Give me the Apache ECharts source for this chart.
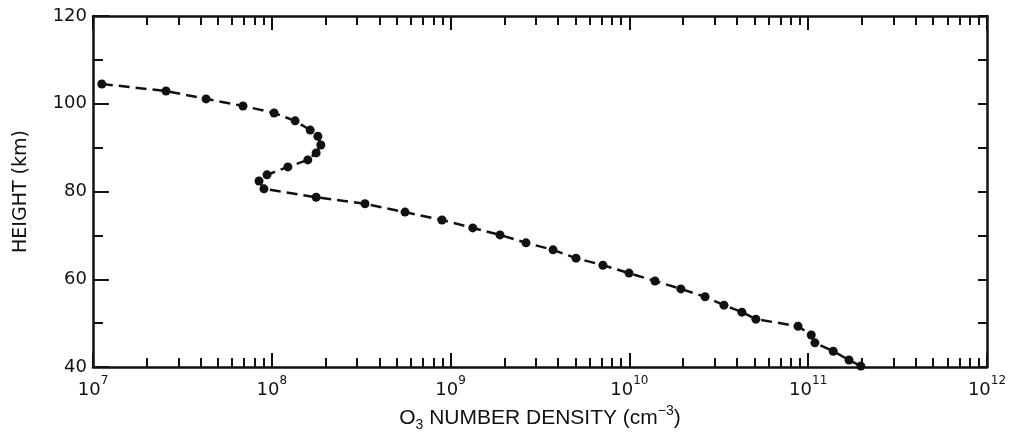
<!DOCTYPE html>
<html>
<head>
<meta charset="utf-8">
<script src="https://cdn.jsdelivr.net/npm/echarts@6/dist/echarts.min.js"></script>
<style>
html, body { margin: 0; padding: 0; background: #fff; }
#chart { width: 1016px; height: 438px; }
</style>
</head>
<body>
<div id="chart"></div>
<script>
// O3 number density (cm^-3) and height (km)
var density = [1.12e7, 2.56e7, 4.29e7, 6.9e7, 1.03e8, 1.35e8, 1.64e8, 1.81e8, 1.88e8, 1.77e8,
    1.59e8, 1.23e8, 9.4e7, 8.48e7, 9.04e7, 1.77e8, 3.32e8, 5.56e8, 8.95e8, 1.33e9,
    1.89e9, 2.64e9, 3.74e9, 5.03e9, 7.11e9, 9.95e9, 1.39e10, 1.94e10, 2.65e10, 3.38e10,
    4.26e10, 5.1e10, 8.77e10, 1.04e11, 1.09e11, 1.38e11, 1.69e11, 1.97e11];
var height = [104.5, 102.9, 101.1, 99.5, 97.9, 96.1, 94.0, 92.6, 90.6, 88.8,
    87.2, 85.6, 83.8, 82.4, 80.6, 78.7, 77.2, 75.3, 73.5, 71.7,
    70.1, 68.3, 66.7, 64.8, 63.2, 61.4, 59.6, 57.8, 56.0, 54.1,
    52.5, 50.9, 49.3, 47.3, 45.5, 43.6, 41.6, 40.2];

// axis ticks
var decades = [7, 8, 9, 10, 11, 12];
var minorSteps = [2, 3, 4, 5, 6, 7, 8, 9];
var heightMin = 40, heightMax = 120, heightStep = 20;

var minorLogTicks = [];
decades.slice(0, -1).forEach(function (d) {
    minorSteps.forEach(function (m) { minorLogTicks.push(d + Math.log10(m)); });
});

var points = density.map(function (v, i) { return [v, height[i]]; });

var font = '"DejaVu Sans", sans-serif';
var narrow = '"Liberation Sans Narrow", "Liberation Sans", sans-serif';
var black = '#111';

function logAxis(pos, withLabels) {
    return {
        type: 'log',
        position: pos,
        min: Math.pow(10, decades[0]),
        max: Math.pow(10, decades[decades.length - 1]),
        logBase: 10,
        splitNumber: 5,
        axisLine: { show: true, lineStyle: { color: black, width: 2.5 } },
        axisTick: { show: true, inside: true, length: 14, lineStyle: { color: black, width: 2 } },
        splitLine: { show: false },
        axisLabel: withLabels ? {
            show: true,
            margin: 8,
            formatter: function (v) {
                var e = Math.round(Math.log10(v));
                return '{b|10}{s|' + e + '}';
            },
            rich: {
                b: { fontSize: 18, fontFamily: font, color: black, verticalAlign: 'bottom', lineHeight: 24 },
                s: { fontSize: 12, fontFamily: font, color: black, verticalAlign: 'top', lineHeight: 24, padding: [0, 0, 6, 0] }
            }
        } : { show: false }
    };
}

function minorXAxis(pos) {
    return {
        type: 'value',
        position: pos,
        min: decades[0],
        max: decades[decades.length - 1],
        axisLine: { show: false },
        axisTick: { show: true, inside: true, length: 9, customValues: minorLogTicks, lineStyle: { color: black, width: 2 } },
        axisLabel: { show: false },
        splitLine: { show: false }
    };
}

var xMain = logAxis('bottom', true);
xMain.name = '{t|O}{sub|3}{t| NUMBER DENSITY (cm}{sup|−3}{t|)}';
xMain.nameLocation = 'middle';
xMain.nameGap = 31;
xMain.nameTextStyle = {
    rich: {
        t: { fontSize: 21, fontFamily: narrow, color: black, lineHeight: 28 },
        sub: { fontSize: 14, fontFamily: narrow, color: black, verticalAlign: 'bottom', lineHeight: 28, padding: [10, 0, 0, 0] },
        sup: { fontSize: 14, fontFamily: narrow, color: black, verticalAlign: 'top', lineHeight: 28, padding: [0, 0, 8, 0] }
    }
};

var option = {
    backgroundColor: '#fff',
    animation: false,
    grid: { left: 93, right: 29, top: 16, bottom: 71, containLabel: false },
    xAxis: [xMain, minorXAxis('bottom'), logAxis('top', false), minorXAxis('top')],
    yAxis: [
        {
            type: 'value',
            position: 'left',
            min: heightMin,
            max: heightMax,
            interval: heightStep,
            name: 'HEIGHT (km)',
            nameLocation: 'middle',
            nameGap: 62,
            nameTextStyle: { fontSize: 19, fontFamily: font, color: black },
            axisLine: { show: true, lineStyle: { color: black, width: 2.5 } },
            axisTick: { show: true, inside: true, length: 16, lineStyle: { color: black, width: 2 } },
            minorTick: { show: true, splitNumber: 2, length: 10, lineStyle: { color: black, width: 2 } },
            axisLabel: { margin: 6, fontSize: 18, fontFamily: font, color: black },
            splitLine: { show: false }
        },
        {
            type: 'value',
            position: 'right',
            min: heightMin,
            max: heightMax,
            interval: heightStep / 2,
            axisLine: { show: true, lineStyle: { color: black, width: 2.5 } },
            axisTick: { show: true, inside: true, length: 9, lineStyle: { color: black, width: 2 } },
            axisLabel: { show: false },
            splitLine: { show: false }
        }
    ],
    series: [
        {
            type: 'line',
            xAxisIndex: 0,
            yAxisIndex: 0,
            data: points,
            symbol: 'circle',
            symbolSize: 9,
            itemStyle: { color: black },
            lineStyle: { color: black, width: 2.5, type: [11, 6] },
            clip: false
        }
    ]
};

var myChart = echarts.init(document.getElementById('chart'));
myChart.setOption(option);
</script>
</body>
</html>
